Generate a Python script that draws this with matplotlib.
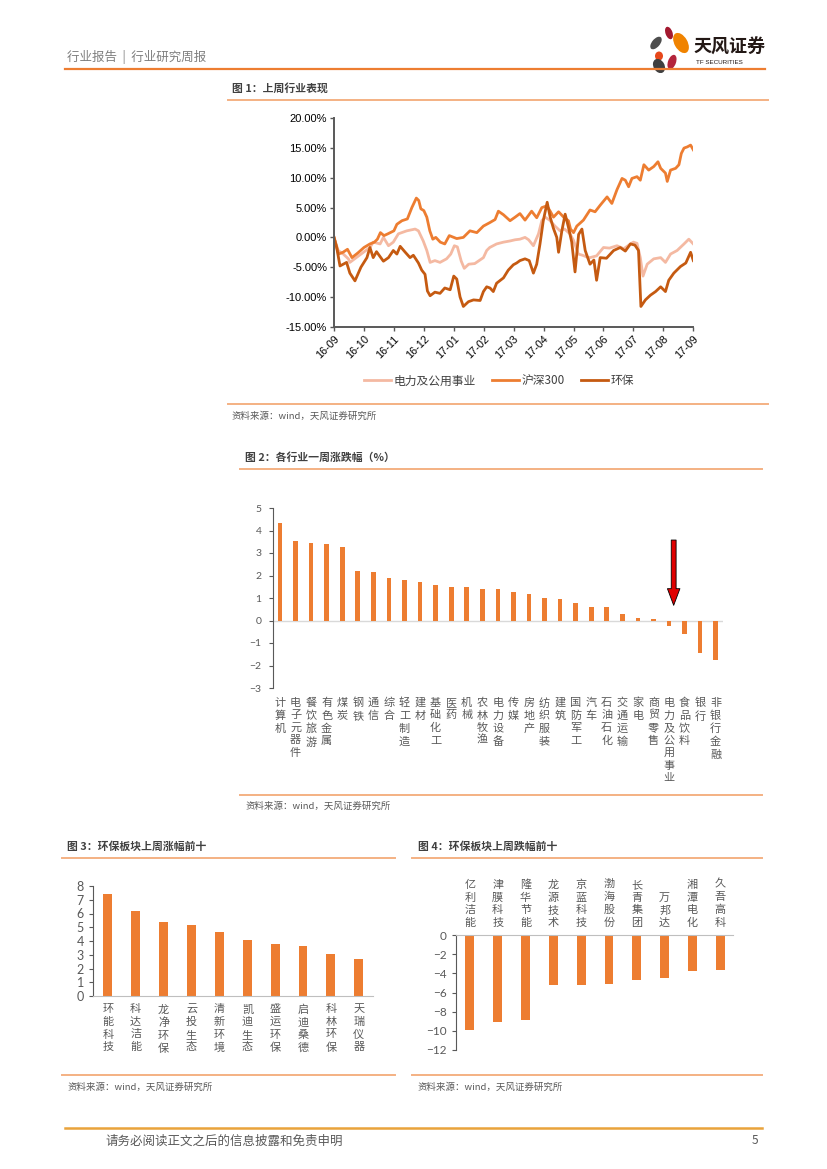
import matplotlib
matplotlib.use('Agg')
import matplotlib.pyplot as plt
from matplotlib.patches import Ellipse

plt.rcParams['font.family'] = ['Noto Sans CJK SC', 'DejaVu Sans']

W, H = 827, 1169

# ---- figure 1 data (month offset from 2016-09, % change) ----
month_labels = ['16-09', '16-10', '16-11', '16-12', '17-01', '17-02', '17-03',
                '17-04', '17-05', '17-06', '17-07', '17-08', '17-09']

hs300_x = [0.00, 0.15, 0.30, 0.45, 0.60, 0.80, 1.00, 1.20, 1.35, 1.45, 1.55, 1.67,
           1.80, 2.00, 2.10, 2.27, 2.45, 2.60, 2.75, 2.83, 2.90, 3.00, 3.10, 3.20,
           3.30, 3.40, 3.55, 3.70, 3.85, 4.10, 4.32, 4.54, 4.77, 4.99, 5.21, 5.38,
           5.49, 5.66, 5.88, 6.05, 6.21, 6.38, 6.60, 6.77, 6.94, 7.11, 7.22, 7.33,
           7.50, 7.67, 7.83, 7.90, 8.00, 8.11, 8.33, 8.55, 8.72, 8.89, 9.12, 9.28,
           9.45, 9.62, 9.73, 9.84, 9.95, 10.12, 10.23, 10.35, 10.51, 10.68, 10.82,
           10.91, 11.07, 11.13, 11.24, 11.41, 11.52, 11.60, 11.69, 11.80, 11.91, 12.00]
hs300_y = [0.0, -2.8, -2.5, -2.0, -3.4, -2.6, -1.7, -1.1, -0.8, -0.3, 0.8, 0.3,
           0.6, 1.1, 2.2, 2.8, 3.1, 5.0, 6.6, 6.2, 4.8, 4.5, 3.4, 1.1,
           -0.3, 0.0, -0.8, -1.1, 0.3, -0.2, 0.0, 1.1, 0.8, 1.9, 2.5, 3.0,
           4.4, 3.8, 2.8, 3.4, 4.0, 2.9, 4.4, 3.3, 5.0, 5.3, 4.4, 3.4,
           4.3, 3.4, 2.8, 1.4, 0.8, 1.9, 2.9, 4.6, 4.3, 5.4, 6.8, 5.7,
           8.0, 9.9, 9.6, 8.5, 9.9, 10.2, 9.6, 12.2, 11.3, 11.9, 12.7,
           11.6, 10.8, 9.4, 11.3, 11.6, 12.2, 14.1, 15.0, 15.2, 15.5, 14.7]

power_x = [0.00, 0.14, 0.31, 0.48, 0.53, 0.85, 1.20, 1.31, 1.54, 1.65, 1.82, 1.98,
           2.15, 2.43, 2.71, 2.82, 2.98, 3.10, 3.21, 3.37, 3.54, 3.76, 3.90, 4.02,
           4.12, 4.25, 4.35, 4.50, 4.70, 4.99, 5.10, 5.20, 5.43, 5.66, 5.88, 6.05,
           6.21, 6.38, 6.50, 6.66, 6.83, 6.94, 7.05, 7.20, 7.38, 7.55, 7.70, 7.88,
           8.00, 8.16, 8.30, 8.45, 8.55, 8.77, 9.00, 9.20, 9.45, 9.68, 9.90, 10.00,
           10.12, 10.23, 10.32, 10.46, 10.68, 10.91, 11.07, 11.24, 11.46, 11.69,
           11.85, 12.00]
power_y = [0.0, -2.2, -2.8, -3.6, -4.2, -3.0, -1.7, -0.8, -1.1, 0.0, -1.4, -0.8,
           0.6, 1.1, 1.4, 1.1, -0.6, -2.2, -4.2, -3.9, -4.2, -3.6, -2.8, -1.4,
           -1.6, -4.0, -5.2, -4.5, -4.4, -3.4, -2.2, -1.7, -1.1, -0.8, -0.6, -0.4,
           -0.3, 0.0, -0.4, -1.4, 0.6, 2.8, 3.4, 2.9, 1.9, 1.1, 1.4, 0.6,
           -0.5, -2.8, -3.0, -3.3, -3.4, -3.1, -1.7, -1.8, -1.4, -1.9, -1.1, -0.8,
           -1.0, -3.4, -6.5, -4.5, -3.6, -3.4, -4.2, -2.8, -2.2, -1.1,
           -0.3, -1.1]

env_x = [0.00, 0.09, 0.20, 0.31, 0.42, 0.53, 0.70, 0.90, 1.10, 1.20, 1.31, 1.42,
         1.65, 1.82, 1.98, 2.10, 2.21, 2.38, 2.54, 2.65, 2.82, 2.93, 3.04, 3.12,
         3.21, 3.37, 3.54, 3.70, 3.88, 4.00, 4.10, 4.21, 4.32, 4.49, 4.66, 4.88,
         4.99, 5.10, 5.21, 5.32, 5.43, 5.66, 5.82, 5.99, 6.10, 6.21, 6.38, 6.52,
         6.66, 6.77, 6.88, 6.99, 7.12, 7.22, 7.33, 7.44, 7.50, 7.61, 7.72, 7.83,
         7.94, 8.05, 8.17, 8.28, 8.39, 8.55, 8.68, 8.77, 8.89, 9.10, 9.34, 9.56,
         9.73, 9.90, 10.05, 10.17, 10.25, 10.40, 10.57, 10.74, 10.91, 11.07, 11.18,
         11.35, 11.57, 11.75, 11.91, 12.00]
env_y = [0.0, -1.7, -4.8, -4.5, -4.2, -6.0, -7.3, -5.0, -3.4, -1.7, -3.4, -2.4,
         -4.0, -3.4, -2.2, -2.8, -1.5, -2.5, -3.4, -3.0, -4.3, -5.5, -6.2, -9.0,
         -9.8, -9.2, -9.4, -8.5, -8.8, -6.5, -7.0, -10.0, -11.6, -10.8, -10.5, -10.6,
         -9.1, -8.3, -8.5, -9.1, -7.7, -6.8, -5.5, -4.6, -4.3, -3.9, -3.6, -3.9,
         -6.0, -4.5, -1.1, 2.8, 5.9, 3.4, 1.5, 0.0, -2.5, 1.1, 3.9, 1.7,
         -0.8, -5.8, 0.5, 1.4, -2.2, -4.5, -3.8, -7.2, -3.4, -3.5, -2.2, -1.7,
         -2.3, -1.1, -1.3, -2.2, -11.6, -10.5, -9.7, -9.1, -8.3, -9.1, -7.2,
         -6.0, -4.9, -4.3, -2.5, -3.9]

# ---- figure 2 data ----
industries = ['计算机', '电子元器件', '餐饮旅游', '有色金属', '煤炭', '钢铁', '通信', '综合',
              '轻工制造', '建材', '基础化工', '医药', '机械', '农林牧渔', '电力设备', '传媒',
              '房地产', '纺织服装', '建筑', '国防军工', '汽车', '石油石化', '交通运输', '家电',
              '商贸零售', '电力及公用事业', '食品饮料', '银行', '非银行金融']
industry_chg = [4.35, 3.52, 3.43, 3.40, 3.25, 2.18, 2.14, 1.88, 1.81, 1.69, 1.56, 1.51,
                1.47, 1.42, 1.38, 1.25, 1.16, 1.01, 0.95, 0.77, 0.59, 0.58, 0.28, 0.10,
                0.05, -0.24, -0.62, -1.44, -1.75]
highlight = '电力及公用事业'

# ---- figure 3 / 4 data ----
top_names = ['环能科技', '科达洁能', '龙净环保', '云投生态', '清新环境',
             '凯迪生态', '盛运环保', '启迪桑德', '科林环保', '天瑞仪器']
top_chg = [7.39, 6.20, 5.39, 5.20, 4.66, 4.05, 3.78, 3.61, 3.05, 2.66]

bottom_names = ['亿利洁能', '津膜科技', '隆华节能', '龙源技术', '京蓝科技',
                '渤海股份', '长青集团', '万邦达', '湘潭电化', '久吾高科']
bottom_chg = [-9.91, -9.04, -8.87, -5.25, -5.18, -5.15, -4.66, -4.45, -3.76, -3.69]

ORANGE = '#ED7D31'
PINK = '#F4B9A2'
BROWN = '#C55A11'
RULE = '#F4B183'
GRAY = '#595959'


def box(x0, y0, x1, y1):
    return [x0 / W, 1 - y1 / H, (x1 - x0) / W, (y1 - y0) / H]


def vert(s):
    return '\n'.join(s)


fig = plt.figure(figsize=(8.27, 11.69), dpi=100)

# page layer in pixel coordinates
page = fig.add_axes([0, 0, 1, 1])
page.set_xlim(0, W)
page.set_ylim(H, 0)
page.axis('off')

page.text(67, 57, '行业报告  |  行业研究周报', fontsize=9, color='#7F7F7F', va='center')
page.plot([65, 765], [69, 69], color=ORANGE, lw=1.6)

# logo
petals = [((669, 33), 7, 13, -20, '#A3192F'),
          ((656, 43), 8, 15, 40, '#4D4D4D'),
          ((681, 43), 13, 22, -30, '#F08300'),
          ((659, 56), 8, 9, 0, '#E7481B'),
          ((659, 66), 11, 15, -30, '#3F3F3F'),
          ((672, 62), 8, 15, 20, '#B3243B')]
for (cx, cy), ew, eh, ang, col in petals:
    page.add_patch(Ellipse((cx, cy), ew, eh, angle=ang, color=col, lw=0))
page.text(694, 47, '天风证券', fontsize=13, weight='bold', color='#231815', va='center')
page.text(696, 63, 'TF SECURITIES', fontsize=4.5, color='#231815', va='center',
          family='Liberation Sans')

# section headers / rules / sources
def section(x_title, y_title, title, x0, x1, y_rule, y_rule2, y_src):
    page.text(x_title, y_title, title, fontsize=7.8, weight='bold', color='#404040', va='center')
    page.plot([x0, x1], [y_rule, y_rule], color=RULE, lw=1.4)
    page.plot([x0, x1], [y_rule2, y_rule2], color=RULE, lw=1.4)
    page.text(x_title, y_src, '资料来源：wind，天风证券研究所', fontsize=6.8, color=GRAY, va='center')


section(232, 88, '图 1：上周行业表现', 228, 768, 100, 404, 416)
section(245, 458, '图 2：各行业一周涨跌幅（%）', 240, 762, 469, 795, 806)
section(67, 847, '图 3：环保板块上周涨幅前十', 62, 395, 858, 1075, 1087)
section(418, 847, '图 4：环保板块上周跌幅前十', 412, 762, 858, 1075, 1087)

page.plot([65, 762], [1128, 1128], color='#E9A33B', lw=1.8)
page.text(105, 1141, '请务必阅读正文之后的信息披露和免责申明', fontsize=9, color=GRAY, va='center')
page.text(752, 1141, '5', fontsize=8.5, color=GRAY, va='center')

# ---- figure 1 ----
ax1 = fig.add_axes(box(334, 118.3, 693.3, 326.7))
l1, = ax1.plot(power_x, power_y, color=PINK, lw=2)
l2, = ax1.plot(hs300_x, hs300_y, color=ORANGE, lw=2)
l3, = ax1.plot(env_x, env_y, color=BROWN, lw=2)
ax1.set_xlim(0, 12)
ax1.set_ylim(-15, 20)
ax1.set_yticks(range(-15, 21, 5))
ax1.set_yticklabels(['%.2f%%' % v for v in range(-15, 21, 5)], family='Liberation Sans', fontsize=8)
ax1.set_xticks(range(13))
ax1.set_xticklabels(month_labels, rotation=45, ha='right', va='top', rotation_mode='anchor',
                    family='Liberation Sans', fontsize=7.8)
for s in ['top', 'right']:
    ax1.spines[s].set_visible(False)
for s in ['left', 'bottom']:
    ax1.spines[s].set_color(GRAY)
    ax1.spines[s].set_linewidth(1.4)
ax1.tick_params(length=3, width=1, color=GRAY, pad=2)
ax1.set_facecolor('none')

fig.legend([l1, l2, l3], ['电力及公用事业', '沪深300', '环保'], loc='center',
           bbox_to_anchor=(499 / W, 1 - 381 / H), ncol=3, frameon=False, fontsize=8.5,
           handlelength=2.3, columnspacing=1.4, handletextpad=0.2, labelcolor='#404040')

# ---- figure 2 ----
ax2 = fig.add_axes(box(272.7, 508, 723, 688))
xs = range(len(industries))
ax2.bar(xs, industry_chg, width=0.3, color=ORANGE)
ax2.axhline(0, color='#D9D9D9', lw=1, zorder=0)
ax2.set_xlim(-0.47, len(industries) - 0.53)
ax2.set_ylim(-3, 5)
ax2.set_yticks(range(-3, 6))
ax2.set_xticks(list(xs))
ax2.set_xticklabels([vert(n) for n in industries], fontsize=8, color=GRAY, va='top',
                    linespacing=1.32)
for lab in ax2.get_yticklabels():
    lab.set_family('Lato')
ax2.tick_params(axis='y', labelsize=7.5, labelcolor=GRAY, length=3, color=GRAY, pad=5)
ax2.tick_params(axis='x', length=0, pad=7)
for s in ['top', 'right', 'bottom']:
    ax2.spines[s].set_visible(False)
ax2.spines['left'].set_color(GRAY)
ax2.set_facecolor('none')
hi = industries.index(highlight)
ax2.annotate('', xy=(hi + 0.3, 0.55), xytext=(hi + 0.3, 3.7),
             arrowprops=dict(arrowstyle='simple,head_width=0.9,head_length=1.2,tail_width=0.35',
                             fc='#E00000', ec='black', lw=0.6))

# ---- figure 3 ----
ax3 = fig.add_axes(box(93, 886, 373, 996))
xs3 = range(len(top_names))
ax3.bar(xs3, top_chg, width=0.32, color=ORANGE)
ax3.set_xlim(-0.53, len(top_names) - 0.49)
ax3.set_ylim(0, 8)
ax3.set_yticks(range(0, 9))
ax3.set_xticks(list(xs3))
ax3.set_xticklabels([vert(n) for n in top_names], fontsize=8, color=GRAY, va='top',
                    linespacing=1.32)
for lab in ax3.get_yticklabels():
    lab.set_family('Lato')
ax3.tick_params(axis='y', labelsize=9, labelcolor=GRAY, length=3, color=GRAY)
ax3.tick_params(axis='x', length=0, pad=6)
for s in ['top', 'right']:
    ax3.spines[s].set_visible(False)
ax3.spines['left'].set_color(GRAY)
ax3.spines['bottom'].set_color('#BFBFBF')
ax3.set_facecolor('none')

# ---- figure 4 ----
ax4 = fig.add_axes(box(456, 935, 733, 1050))
xs4 = range(len(bottom_names))
ax4.bar(xs4, bottom_chg, width=0.32, color=ORANGE)
ax4.set_xlim(-0.5, len(bottom_names) - 0.54)
ax4.set_ylim(-12, 0)
ax4.set_yticks(range(-12, 1, 2))
ax4.xaxis.tick_top()
ax4.set_xticks(list(xs4))
ax4.set_xticklabels([vert(n) for n in bottom_names], fontsize=8, color=GRAY, va='bottom',
                    linespacing=1.32)
for lab in ax4.get_yticklabels():
    lab.set_family('Lato')
ax4.tick_params(axis='y', labelsize=8.5, labelcolor=GRAY, length=3, color=GRAY)
ax4.tick_params(axis='x', length=0, pad=5)
for s in ['bottom', 'right']:
    ax4.spines[s].set_visible(False)
ax4.spines['left'].set_color(GRAY)
ax4.spines['top'].set_color('#BFBFBF')
ax4.set_facecolor('none')

fig.savefig('out.png', dpi=100)
